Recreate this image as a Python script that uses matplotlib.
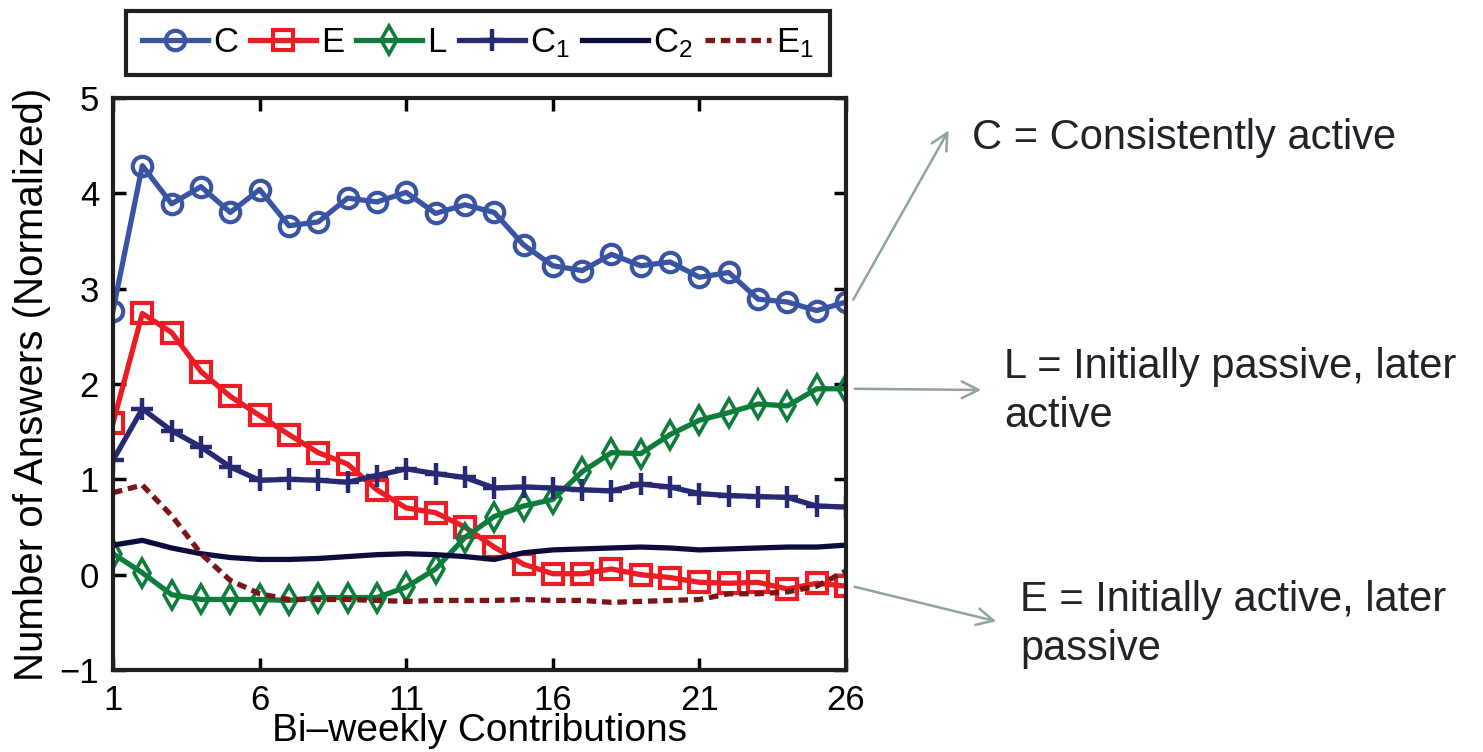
import matplotlib
matplotlib.use("Agg")
import matplotlib.pyplot as plt

plt.rcParams['font.family'] = ['Liberation Sans', 'DejaVu Sans']
plt.rcParams['mathtext.default'] = 'regular'

# bi-weekly periods
periods = list(range(1, 27))

# normalized number of answers per cluster
c_vals = [2.77, 4.29, 3.89, 4.07, 3.80, 4.04, 3.66, 3.70, 3.95, 3.91, 4.01, 3.79, 3.88,
          3.80, 3.46, 3.24, 3.19, 3.36, 3.24, 3.28, 3.12, 3.17, 2.89, 2.86, 2.77, 2.86]
e_vals = [1.59, 2.74, 2.54, 2.13, 1.87, 1.67, 1.47, 1.28, 1.16, 0.89, 0.70, 0.65, 0.50,
          0.29, 0.11, 0.01, 0.01, 0.06, 0.00, -0.03, -0.08, -0.09, -0.08, -0.15, -0.09, -0.12]
l_vals = [0.22, 0.02, -0.21, -0.26, -0.26, -0.26, -0.27, -0.24, -0.24, -0.24, -0.13, 0.06, 0.39,
          0.61, 0.72, 0.79, 1.08, 1.28, 1.27, 1.47, 1.62, 1.70, 1.79, 1.77, 1.95, 1.95]
c1_vals = [1.20, 1.74, 1.51, 1.34, 1.13, 0.99, 1.00, 0.99, 0.97, 1.04, 1.11, 1.06, 1.02,
           0.91, 0.92, 0.91, 0.89, 0.88, 0.95, 0.92, 0.85, 0.83, 0.82, 0.81, 0.72, 0.71]
c2_vals = [0.31, 0.36, 0.28, 0.22, 0.18, 0.16, 0.16, 0.17, 0.19, 0.21, 0.22, 0.21, 0.19,
           0.16, 0.23, 0.26, 0.27, 0.28, 0.29, 0.28, 0.26, 0.27, 0.28, 0.29, 0.29, 0.31]
e1_vals = [0.86, 0.94, 0.62, 0.22, -0.06, -0.20, -0.26, -0.26, -0.26, -0.27, -0.28, -0.27, -0.27,
           -0.27, -0.26, -0.27, -0.27, -0.29, -0.28, -0.27, -0.26, -0.20, -0.20, -0.18, -0.12, 0.04]

xticks = [1, 6, 11, 16, 21, 26]
yticks = [-1, 0, 1, 2, 3, 4, 5]

fig = plt.figure(figsize=(14.83, 7.52), dpi=100)
ax = fig.add_axes([0.0762, 0.109, 0.4943, 0.7607])

lw = 3.8
ax.plot(periods, c_vals, '-o', color='#3a54a4', lw=lw, ms=14, mew=3, mfc='none', label='C')
ax.plot(periods, e_vals, '-s', color='#ec1c24', lw=lw, ms=14, mew=3, mfc='none', label='E')
ax.plot(periods, l_vals, '-d', color='#0e7d3c', lw=lw, ms=14, mew=2.6, mfc='none', label='L')
ax.plot(periods, c1_vals, '-+', color='#272a72', lw=lw, ms=16, mew=3.2, label='C$_1$')
ax.plot(periods, c2_vals, '-', color='#0b0c3c', lw=lw, label='C$_2$')
ax.plot(periods, e1_vals, '--', color='#7b1518', lw=lw, dashes=(1.8, 1.1), label='E$_1$')

ax.set_xlim(1, 26)
ax.set_ylim(-1, 5)
ax.set_xticks(xticks)
ax.set_yticks(yticks)
ax.tick_params(direction='in', length=9, width=2.5, labelsize=25, top=True, right=True, pad=10)
for spine in ax.spines.values():
    spine.set_linewidth(3)
    spine.set_color('#231f20')

ax.set_xlabel('Bi\u2013weekly Contributions', fontsize=28, labelpad=-3)
ax.set_ylabel('Number of Answers (Normalized)', fontsize=29, labelpad=6)

leg = fig.legend(loc='center', bbox_to_anchor=(478 / 1483, 1 - 43 / 752), ncol=6,
                 fontsize=25, handlelength=1.9, handletextpad=0.15, columnspacing=0.35,
                 fancybox=False, framealpha=1, edgecolor='#231f20', borderpad=0.45)
leg.get_frame().set_linewidth(3)

# cluster descriptions with arrows pointing at the last period
arrow_color = '#8fa597'
notes = [
    (c_vals[-1], (950, 128), (972, 149), ['C = Consistently active']),
    (l_vals[-1], (984, 390), (1004, 378), ['L = Initially passive, later', 'active']),
    (e_vals[-1], (999, 622), (1020, 611), ['E = Initially active, later', 'passive']),
]
W, H = 1483, 752
for yval, tip, txt_pos, lines in notes:
    ax.annotate('', xy=(tip[0] / W, 1 - tip[1] / H), xycoords='figure fraction',
                xytext=(26.2, yval), textcoords='data', annotation_clip=False,
                arrowprops=dict(arrowstyle='->', color=arrow_color, lw=1.8, mutation_scale=30))
    for i, line in enumerate(lines):
        fig.text(txt_pos[0] / W, 1 - (txt_pos[1] + i * 49) / H, line, fontsize=30,
                 color='#222228', va='baseline', ha='left')

fig.savefig('out.png', dpi=100)
